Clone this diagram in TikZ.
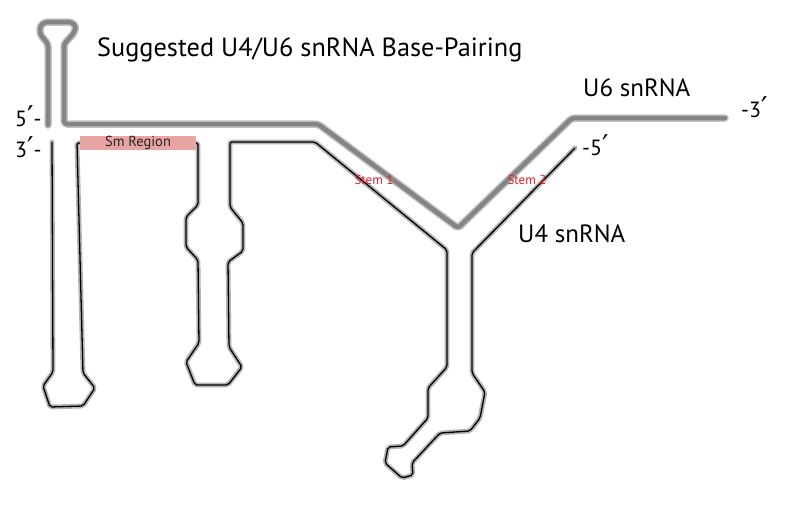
\documentclass[tikz,border=0pt]{standalone}
\usepackage{fontspec}
\setmainfont{PT Sans}
\newfontfamily\primefont[Scale=1.3]{DejaVu Sans}
\newcommand{\pr}{{\primefont ′}}
\definecolor{smpink}{HTML}{E8A3A3}
\definecolor{stemred}{HTML}{E0202A}
\definecolor{halo}{HTML}{9A9A9A}
\definecolor{ugray}{HTML}{858585}
\tikzset{
  u6outer/.style={draw=halo!60, line width=7.5pt, line join=round, line cap=round, rounded corners=3pt},
  u6inner/.style={draw=ugray, line width=4.5pt, line join=round, line cap=round, rounded corners=3pt},
  u4halo/.style={draw=halo!75, line width=4.8pt, line join=round, line cap=round, rounded corners=2pt},
  u4line/.style={draw=black, line width=1.3pt, line join=round, rounded corners=2pt},
  big/.style={inner sep=0pt, anchor=base west, font=\fontsize{25}{25}\selectfont},
  endlab/.style={inner sep=0pt, anchor=base west, font=\fontsize{22}{22}\selectfont},
  stemlab/.style={inner sep=0pt, text=stemred, font=\fontsize{13}{13}\selectfont},
}
\begin{document}
\begin{tikzpicture}[x=1pt,y=-1pt]
\useasboundingbox[fill=white] (0,0) rectangle (786,512);
% U6 snRNA path
\coordinate (u6five) at (48,125);
\coordinate (u6three) at (725,118);
\def\uSixPath{(u6five) -- (48,44) -- (40,34) -- (40,26) -- (45,22) -- (71,22) -- (76,26) -- (74,33) -- (64,44) -- (64,124) -- (318,124) -- (458,228) -- (572,118) -- (u6three)}
\path[u6outer] \uSixPath;
\path[u6inner] \uSixPath;
% U4 snRNA path
\coordinate (u4three) at (52,142);
\coordinate (u4five) at (575,148);
\def\uFourPath{(u4three) -- (53,372) -- (43,386) -- (50,407) -- (83,406) -- (95,388) -- (83,373) -- (77,143) -- (198,143) -- (198,205) -- (186,217) -- (186,247) -- (198,260) -- (199,343) -- (186,362) -- (195,385) -- (228,385) -- (242,367) -- (229,347) -- (228,262) -- (243,251) -- (243,223) -- (230,207) -- (230,142) -- (315,142) -- (447,250) -- (447,367) -- (428,388) -- (428,418) -- (403,446) -- (388,447) -- (385,463) -- (402,478) -- (413,475) -- (412,463) -- (440,433) -- (470,431) -- (480,418) -- (485,392) -- (472,373) -- (472,253) -- (u4five)}
\path[u4halo] \uFourPath;
\path[u4line] \uFourPath;
% Sm region
\node[fill=smpink, minimum width=116pt, minimum height=14pt, inner sep=0pt, font=\fontsize{14.5}{14.5}\selectfont, text=black!85] (sm) at (138,143) {Sm Region};
% labels
\node[big, font=\fontsize{26.3}{26.3}\selectfont] (title) at (97,56) {Suggested U4/U6 snRNA Base-Pairing};
\node[big] (u6lab) at (583,96) {U6 snRNA};
\node[big] (u4lab) at (518,242) {U4 snRNA};
\node[endlab] (three6) at (741,117) {-3\pr};
\node[endlab] (five4) at (582,155) {-5\pr};
\node[endlab] (five6) at (15,126) {5\pr-};
\node[endlab] (three4) at (15,157) {3\pr-};
\node[stemlab] (stem1) at (374,180) {Stem 1};
\node[stemlab] (stem2) at (527,180) {Stem 2};
\end{tikzpicture}
\end{document}
